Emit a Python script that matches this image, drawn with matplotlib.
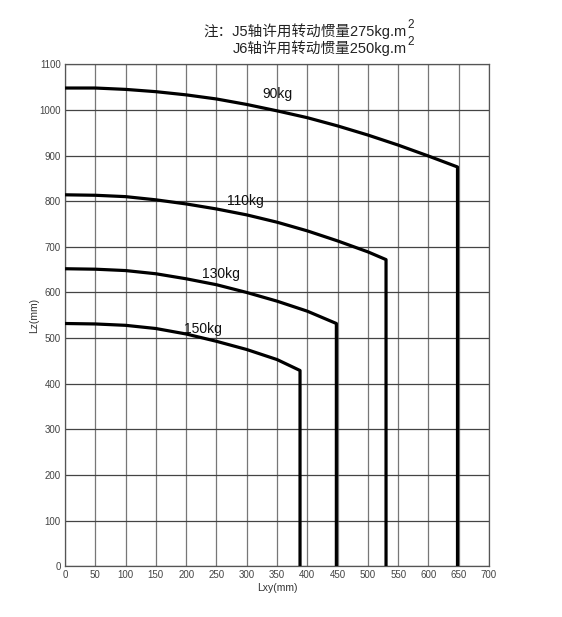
import matplotlib
matplotlib.use("Agg")
import matplotlib.pyplot as plt

plt.rcParams['font.family'] = ['Liberation Sans', 'Noto Sans CJK SC', 'DejaVu Sans']

# Data
x90 = [0, 50, 100, 150, 200, 250, 300, 350, 400, 450, 500, 550, 600, 648]
y90 = [1048, 1048, 1045, 1040, 1033, 1024, 1012, 998, 983, 965, 945, 923, 899, 875]
x110 = [0, 50, 100, 150, 200, 250, 300, 350, 400, 450, 500, 530]
y110 = [814, 813, 810, 803, 794, 783, 770, 754, 735, 713, 689, 672]
x130 = [0, 50, 100, 150, 200, 250, 300, 350, 400, 448]
y130 = [652, 651, 648, 641, 630, 617, 600, 581, 559, 532]
x150 = [0, 50, 100, 150, 200, 250, 300, 350, 388]
y150 = [532, 531, 528, 521, 509, 493, 475, 453, 429]
labels = ['90kg', '110kg', '130kg', '150kg']
label_pos = [(350, 1035), (297, 800), (258, 641), (228, 519)]
xticks = list(range(0, 701, 50))
yticks = list(range(0, 1101, 100))
note1 = '注：J5轴许用转动惯量275kg.m'
note2 = 'J6轴许用转动惯量250kg.m'

fig = plt.figure(figsize=(5.62, 6.17), dpi=100)
ax = fig.add_axes([0.1157, 0.0822, 0.7544, 0.8136])

for xs, ys in [(x90, y90), (x110, y110), (x130, y130), (x150, y150)]:
    px = xs + [xs[-1]]
    py = ys + [0]
    ax.plot(px, py, color='black', lw=2.3, solid_joinstyle='round',
            solid_capstyle='butt', zorder=3)

for lab, (lx, ly) in zip(labels, label_pos):
    ax.text(lx, ly, lab, fontsize=10, ha='center', va='center', color='#111111', zorder=4)

ax.set_xlim(0, 700)
ax.set_ylim(0, 1100)
ax.set_xticks(xticks)
ax.set_yticks(yticks)
ax.tick_params(length=0, labelsize=7, colors='#444444', pad=3)
ax.xaxis.grid(True, color='#777777', lw=0.9)
ax.yaxis.grid(True, color='#444444', lw=0.9)
for s in ax.spines.values():
    s.set_color('#555555')
    s.set_linewidth(0.9)
ax.set_xlabel('Lxy(mm)', fontsize=7.5, color='#333333', labelpad=2)
ax.set_ylabel('Lz(mm)', fontsize=7.5, color='#333333', labelpad=0)

# notes at top
xr = 407 / 562
fig.text(xr, 1 - 36 / 617, note1, ha='right', va='baseline', fontsize=10.5, color='#222222')
fig.text(xr, 1 - 28 / 617, '2', ha='left', va='baseline', fontsize=8.5, color='#222222')
fig.text(xr, 1 - 53 / 617, note2, ha='right', va='baseline', fontsize=10.5, color='#222222')
fig.text(xr, 1 - 45 / 617, '2', ha='left', va='baseline', fontsize=8.5, color='#222222')

fig.savefig('out.png', dpi=100, facecolor='white')
